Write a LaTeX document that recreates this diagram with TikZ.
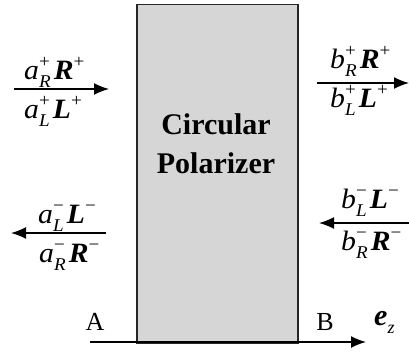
\documentclass[tikz,border=0pt]{standalone}
\usepackage{fontspec}
\setmainfont{Liberation Serif}
\usetikzlibrary{arrows.meta}
% stacked super/subscript
\newcommand\sx[2]{{\fontsize{18}{18}\selectfont\ooalign{\raisebox{12pt}{\upshape #1}\cr\raisebox{-8pt}{\itshape #2}\cr}}}
\newcommand\bv[1]{\textbf{\textit{#1}}}
\newcommand\lab[5]{\scalebox{1.06}[1]{\textit{#1}\sx{#2}{#3}\hspace{3pt}\bv{#4}\sx{#5}{}}}
\begin{document}
\begin{tikzpicture}[x=1pt,y=-1pt,
  ln/.style={line width=1.5pt,-{Latex[length=15pt,width=12pt]}},
  lbl/.style={font=\fontsize{28}{30}\selectfont,inner sep=0pt,anchor=base west},
  pt/.style={font=\fontsize{26}{28}\selectfont,inner sep=0pt,anchor=base},
  ttl/.style={font=\fontsize{30}{34}\selectfont\bfseries,inner sep=0pt,anchor=base}]
\useasboundingbox (0,0) rectangle (409,353);
\node[draw=black!85,line width=1.5pt,fill=black!16,minimum width=161pt,minimum height=338pt,inner sep=0pt,anchor=north west] (pol) at (136,4) {};
\node[ttl] (t1) at (216,134) {Circular};
\node[ttl] (t2) at (216,173) {Polarizer};
% bottom axis
\coordinate (z0) at (90,342);
\coordinate (z1) at (366,342);
\draw[ln] (z0) -- (z1);
\node[pt] (A) at (95,330) {A};
\node[pt] (B) at (325,330) {B};
\node[lbl] (ez) at (374,325) {\fontsize{30}{32}\selectfont\bv{e}\raisebox{-8pt}{\fontsize{18}{18}\selectfont\itshape z}};
% left top
\coordinate (lt0) at (14,89); \coordinate (lt1) at (109,89);
\draw[ln] (lt0) -- (lt1);
\node[lbl] (ltu) at (24,79) {\lab{a}{+}{R}{R}{+}};
\node[lbl] (ltd) at (24,118) {\lab{a}{+}{L}{L}{+}};
% right top
\coordinate (rt0) at (317,83); \coordinate (rt1) at (409,83);
\draw[ln] (rt0) -- (rt1);
\node[lbl] (rtu) at (330,68) {\lab{b}{+}{R}{R}{+}};
\node[lbl] (rtd) at (330,107) {\lab{b}{+}{L}{L}{+}};
% left bottom
\coordinate (lb0) at (106,233); \coordinate (lb1) at (11,233);
\draw[ln] (lb0) -- (lb1);
\node[lbl] (lbu) at (38,223) {\lab{a}{−}{L}{L}{−}};
\node[lbl] (lbd) at (39,262) {\lab{a}{−}{R}{R}{−}};
% right bottom
\coordinate (rb0) at (409,223); \coordinate (rb1) at (319,223);
\draw[ln] (rb0) -- (rb1);
\node[lbl] (rbu) at (341,208) {\lab{b}{−}{L}{L}{−}};
\node[lbl] (rbd) at (341,250) {\lab{b}{−}{R}{R}{−}};
\end{tikzpicture}
\end{document}
